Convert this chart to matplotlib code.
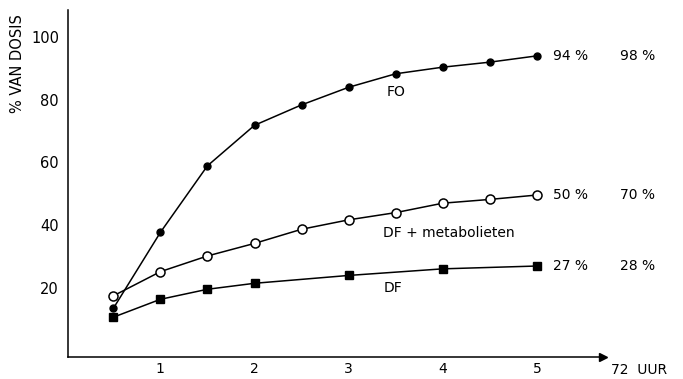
import matplotlib
matplotlib.use("Agg")
import matplotlib.pyplot as plt

# uitscheiding in % van de dosis, uitgezet tegen de tijd
uren_fo = [0.5, 1, 1.5, 2, 2.5, 3, 3.5, 4, 4.5, 5]
fo = [13.5, 37.7, 58.9, 71.8, 78.3, 83.9, 88.2, 90.3, 91.9, 93.9]

uren_met = [0.5, 1, 1.5, 2, 2.5, 3, 3.5, 4, 4.5, 5]
df_met = [17.5, 25.2, 30.2, 34.2, 38.7, 41.7, 44.0, 47.0, 48.2, 49.6]

uren_df = [0.5, 1, 1.5, 2, 3, 4, 5]
df = [10.7, 16.4, 19.6, 21.5, 24.0, 26.1, 27.0]

# eindwaarden na 5 uur en na 72 uur
eind_5 = ['94 %', '50 %', '27 %']
eind_72 = ['98 %', '70 %', '28 %']
eind_y = [93.9, 49.6, 27.0]

x_ticks = [1, 2, 3, 4, 5]
y_ticks = [20, 40, 60, 80, 100]

plt.rcParams['font.family'] = ['DejaVu Sans']

fig = plt.figure(figsize=(6.83, 3.79), dpi=100)
ax = fig.add_axes([0.0996, 0.058, 0.783, 0.9156])

lw = 1.1
ax.plot(uren_fo, fo, color='black', lw=lw, marker='o', ms=5,
        mfc='black', mec='black')
ax.plot(uren_met, df_met, color='black', lw=lw, marker='o', ms=6.5,
        mfc='white', mec='black', mew=1.1)
ax.plot(uren_df, df, color='black', lw=lw, marker='s', ms=6,
        mfc='black', mec='black')

# curvenamen
ax.text(3.5, 82.5, 'FO', fontsize=10, ha='center', va='center')
ax.text(3.37, 37.5, 'DF + metabolieten', fontsize=10, ha='left',
        va='center')
ax.text(3.37, 20, 'DF', fontsize=10, ha='left', va='center')

for a, b, y in zip(eind_5, eind_72, eind_y):
    ax.text(5.17, y, a, fontsize=10, ha='left', va='center', clip_on=False)
    ax.text(5.88, y, b, fontsize=10, ha='left', va='center', clip_on=False)

ax.text(5.79, -1.97 - 13 / 3.14, '72  UUR', fontsize=10, ha='left',
        va='center', clip_on=False)

ax.set_xlim(0.019, 5.70)
ax.set_ylim(-1.97, 108.5)
ax.set_xticks(x_ticks)
ax.set_yticks(y_ticks)
ax.tick_params(axis='both', length=0, labelsize=10.5)
ax.tick_params(axis='y', pad=6.5)
ax.tick_params(axis='x', pad=3.5, labelsize=10)

ax.spines['top'].set_visible(False)
ax.spines['right'].set_visible(False)
for s in ['left', 'bottom']:
    ax.spines[s].set_linewidth(1.1)

# pijl aan het eind van de tijdas
ax.plot(1, 0, marker='>', color='black', ms=6, transform=ax.transAxes,
        clip_on=False)

fig.text(18 / 683, 1 - 64 / 379, '% VAN DOSIS', rotation=90, fontsize=10.5,
         ha='center', va='center')

fig.savefig('out.png', dpi=100)
